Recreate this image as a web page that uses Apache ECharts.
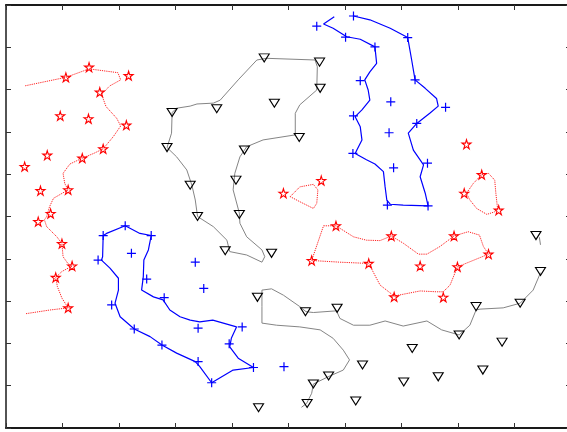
<!DOCTYPE html>
<html>
<head>
<meta charset="utf-8">
<script src="https://cdn.jsdelivr.net/npm/echarts@6/dist/echarts.min.js"></script>
<style>
  html, body { margin: 0; padding: 0; background: #ffffff; overflow: hidden; }
  #chart { width: 580px; height: 432px; }
</style>
</head>
<body>
<div id="chart"></div>
<script>
// Class samples
const redStars = [
  [1.06,8.29],[1.47,8.53],[2.17,8.33],[1.66,7.94],[0.96,7.38],[1.46,7.31],[2.13,7.16],
  [1.72,6.60],[0.73,6.45],[1.35,6.38],[0.33,6.18],[0.61,5.61],[1.10,5.63],[0.79,5.07],
  [0.57,4.88],[0.99,4.36],[1.17,3.83],[0.88,3.56],[1.10,2.84],
  [4.91,5.55],[5.58,5.85],
  [5.84,4.78],[5.41,3.96],[6.42,3.89],[6.82,4.54],[7.93,4.54],[8.54,4.11],[7.99,3.81],
  [7.33,3.83],[6.87,3.10],[7.74,3.09],
  [8.42,5.99],[8.11,5.55],[8.72,5.15],[8.15,6.71]
];

const bluePluses = [
  [1.72,4.55],[2.11,4.78],[2.57,4.55],[1.63,3.97],[2.22,4.13],[2.49,3.52],[2.80,3.08],
  [1.87,2.91],[2.27,2.34],[2.76,1.96],[3.35,3.92],[3.50,3.30],[3.40,2.36],[4.18,2.39],
  [3.95,1.99],[3.40,1.57],[4.38,1.43],[3.64,1.07],[4.92,1.45],
  [5.50,9.50],[6.15,9.74],[6.01,9.24],[6.53,9.01],[7.11,9.23],[6.27,8.21],[7.24,8.23],
  [6.81,7.71],[7.78,7.58],[6.15,7.38],[7.27,7.20],[6.78,6.98],[6.14,6.49],[7.46,6.26],
  [6.86,6.15],[6.75,5.27],[7.47,5.25]
];

const blackTriangles = [
  [2.94,7.46],[2.85,6.63],[3.26,5.74],[4.57,8.75],[5.55,8.65],[5.56,8.03],[3.73,7.55],
  [4.75,7.68],[5.19,6.87],[4.22,6.57],[4.07,5.86],[3.39,5.00],[4.13,5.05],[3.88,4.19],
  [4.70,4.13],[4.45,3.09],[5.30,2.75],[5.86,2.83],[6.31,1.49],[5.71,1.23],[5.44,1.04],
  [5.33,0.58],[6.19,0.64],[4.47,0.48],[8.02,2.20],[8.32,2.87],[9.10,2.95],[9.46,3.70],
  [9.38,4.55],[7.19,1.88],[8.78,2.03],[8.44,1.37],[7.65,1.21],[7.04,1.09]
];

// Decision boundaries of the red class
const redBoundaryWest = [
  [0.34,8.09],[1.06,8.29],[1.47,8.49],[1.98,8.40],[2.03,8.23],[1.84,8.09],[1.69,7.89],
  [1.77,7.60],[1.96,7.32],[2.03,7.14],[1.90,6.89],[1.72,6.60],[1.55,6.49],[1.35,6.38],
  [1.13,6.24],[1.01,6.02],[1.04,5.78],[1.10,5.63],[0.84,5.43],[0.77,5.23],[0.72,5.00],
  [0.68,4.92],[0.72,4.76],[0.90,4.52],[0.99,4.36],[1.01,4.05],[1.10,3.88],[1.17,3.83],
  [0.99,3.70],[0.88,3.56],[0.91,3.34],[0.99,3.07],[1.10,2.84],[0.78,2.79],[0.34,2.70]
];
const redBoundaryCentre = [
  [5.03,5.47],[5.20,5.70],[5.44,5.76],[5.52,5.63],[5.50,5.31],[5.44,5.19],[5.20,5.35],[5.03,5.47]
];
const redBoundaryNorthEast = [
  [8.42,5.99],[8.54,6.02],[8.65,5.86],[8.67,5.55],[8.70,5.19],[8.65,5.11],[8.51,5.05],
  [8.33,5.19],[8.21,5.39],[8.15,5.55],[8.27,5.78],[8.42,5.99]
];
const redBoundaryEast = [
  [5.62,4.78],[5.84,4.78],[6.15,4.52],[6.38,4.44],[6.62,4.43],[6.82,4.54],[7.03,4.37],
  [7.30,4.11],[7.45,4.11],[7.68,4.29],[7.93,4.54],[8.18,4.64],[8.38,4.56],[8.45,4.29],
  [8.54,4.11],[8.21,3.93],[7.99,3.81],[7.86,3.38],[7.74,3.22],[7.62,3.22],[7.33,3.24],
  [6.87,3.12],[6.62,3.38],[6.42,3.89],[5.91,3.92],[5.41,3.96],[5.62,4.78]
];

// Decision boundaries of the blue class
const blueBoundarySouth = [
  [3.26,2.55],[3.08,2.63],[2.90,2.79],[2.78,3.03],[2.61,3.10],[2.40,3.26],[2.43,3.58],
  [2.44,3.97],[2.52,4.21],[2.57,4.55],[2.37,4.60],[2.11,4.78],[1.78,4.60],[1.72,4.55],
  [1.71,4.05],[1.69,3.97],[1.84,3.78],[1.99,3.54],[1.99,3.26],[1.93,2.95],[2.02,2.63],
  [2.27,2.34],[2.55,2.16],[2.76,1.96],[3.02,1.77],[3.35,1.57],[3.43,1.45],[3.64,1.07],
  [4.02,1.37],[4.38,1.43],[4.11,1.65],[3.96,1.92],[3.99,2.13],[4.08,2.39],[3.66,2.55],
  [3.43,2.51],[3.26,2.55]
];
const blueBoundaryNorth = [
  [5.81,9.72],[5.62,9.55],[5.79,9.45],[6.03,9.25],[6.27,9.19],[6.53,9.01],[6.56,8.62],
  [6.44,8.42],[6.35,8.23],[6.41,7.99],[6.44,7.75],[6.30,7.52],[6.18,7.36],[6.27,7.12],
  [6.30,6.81],[6.21,6.57],[6.18,6.49],[6.38,6.34],[6.53,6.24],[6.68,6.06],[6.71,5.70],
  [6.74,5.39],[6.80,5.29],[7.03,5.27],[7.47,5.25],[7.42,5.55],[7.33,5.94],[7.39,6.22],
  [7.21,6.57],[7.12,6.97],[7.27,7.20],[7.50,7.44],[7.65,7.61],[7.62,7.79],[7.42,8.03],
  [7.24,8.23],[7.18,8.70],[7.11,9.23],[6.80,9.45],[6.44,9.65],[6.15,9.74]
];

// Decision boundaries of the black class
const blackBoundaryNorth = [
  [3.26,7.61],[3.02,7.56],[2.94,7.46],[2.93,6.97],[2.85,6.63],[3.02,6.41],[3.20,6.10],
  [3.29,5.74],[3.35,5.39],[3.39,5.00],[3.67,4.76],[3.91,4.44],[3.96,4.17],[4.26,4.09],
  [4.53,3.92],[4.58,4.05],[4.53,4.21],[4.26,4.52],[4.14,4.84],[4.13,5.08],[4.02,5.63],
  [4.05,6.02],[4.14,6.41],[4.26,6.65],[4.55,6.81],[5.12,6.93],[5.12,7.44],[5.20,7.64],
  [5.50,7.99],[5.51,8.54],[5.47,8.70],[4.61,8.74],[4.44,8.70],[4.11,8.23],[3.79,7.75],
  [3.67,7.68],[3.38,7.66],[3.26,7.61]
];
const blackBoundarySouth = [
  [9.46,3.67],[9.33,3.26],[9.10,2.95],[8.80,2.84],[8.39,2.81],[8.32,2.79],[8.21,2.43],
  [8.02,2.20],[7.71,2.32],[7.45,2.53],[7.03,2.41],[6.71,2.53],[6.44,2.43],[6.15,2.43],
  [5.91,2.59],[5.85,2.77],[5.44,2.73],[5.31,2.75],[5.20,2.87],[4.91,3.14],[4.70,3.29],
  [4.53,3.26],[4.53,2.87],[4.53,2.48],[4.79,2.43],[5.20,2.39],[5.56,2.32],[5.79,2.12],
  [5.97,1.84],[6.08,1.61],[5.97,1.37],[5.70,1.21],[5.44,1.04],[5.41,0.82],[5.32,0.58],
  [5.23,0.49]
];
const blackBoundaryEdge = [[9.44,4.51],[9.46,4.33]];

const xTicks = [0,1,2,3,4,5,6,7,8,9,10];
const yTicks = [0,1,2,3,4,5,6,7,8,9,10];

const STAR = 'path://M50,0 L61,35 L98,35 L68,57 L79,91 L50,70 L21,91 L32,57 L2,35 L39,35 Z';
const PLUS = 'path://M0,50 L100,50 M50,0 L50,100';
const TRIANGLE_DOWN = 'path://M0,0 L100,0 L50,80 Z';

function frameAxis(position, lineWidth, range) {
  return {
    type: 'value',
    position: position,
    min: range[0],
    max: range[range.length - 1],
    interval: range[1] - range[0],
    axisLine: { show: true, onZero: false, lineStyle: { color: '#1a1a1a', width: lineWidth } },
    axisTick: { show: true, inside: true, length: 5, lineStyle: { color: '#333333', width: 1 } },
    axisLabel: { show: false },
    splitLine: { show: false }
  };
}

function boundary(data, color, type, width) {
  return {
    type: 'line',
    data: data,
    showSymbol: false,
    symbol: 'none',
    smooth: false,
    silent: true,
    z: 2,
    lineStyle: { color: color, width: width, type: type }
  };
}

function samples(data, symbol, size, color, width) {
  return {
    type: 'scatter',
    data: data,
    symbol: symbol,
    symbolSize: size,
    z: 5,
    itemStyle: { color: 'none', borderColor: color, borderWidth: width, opacity: 1 }
  };
}

const chart = echarts.init(document.getElementById('chart'), null, { renderer: 'canvas' });
chart.setOption({
  animation: false,
  backgroundColor: '#ffffff',
  grid: { left: 6, top: 5, width: 565, height: 423, containLabel: false },
  xAxis: [frameAxis('bottom', 2, xTicks), frameAxis('top', 2, xTicks)],
  yAxis: [frameAxis('left', 1.5, yTicks), frameAxis('right', 1.5, yTicks)],
  series: [
    boundary(redBoundaryWest, '#ff2020', [1.2, 1], 1),
    boundary(redBoundaryCentre, '#ff2020', [1.2, 1], 1),
    boundary(redBoundaryNorthEast, '#ff2020', [1.2, 1], 1),
    boundary(redBoundaryEast, '#ff2020', [1.2, 1], 1),
    boundary(blueBoundarySouth, '#0000ff', 'solid', 1.2),
    boundary(blueBoundaryNorth, '#0000ff', 'solid', 1.2),
    boundary(blackBoundaryNorth, '#858585', 'solid', 1),
    boundary(blackBoundarySouth, '#858585', 'solid', 1),
    boundary(blackBoundaryEdge, '#858585', 'solid', 1),
    samples(redStars, STAR, 9, '#ff0000', 1.1),
    samples(bluePluses, PLUS, 9, '#0000ff', 1.2),
    samples(blackTriangles, TRIANGLE_DOWN, [10, 8], '#000000', 1.1)
  ]
});
</script>
</body>
</html>
